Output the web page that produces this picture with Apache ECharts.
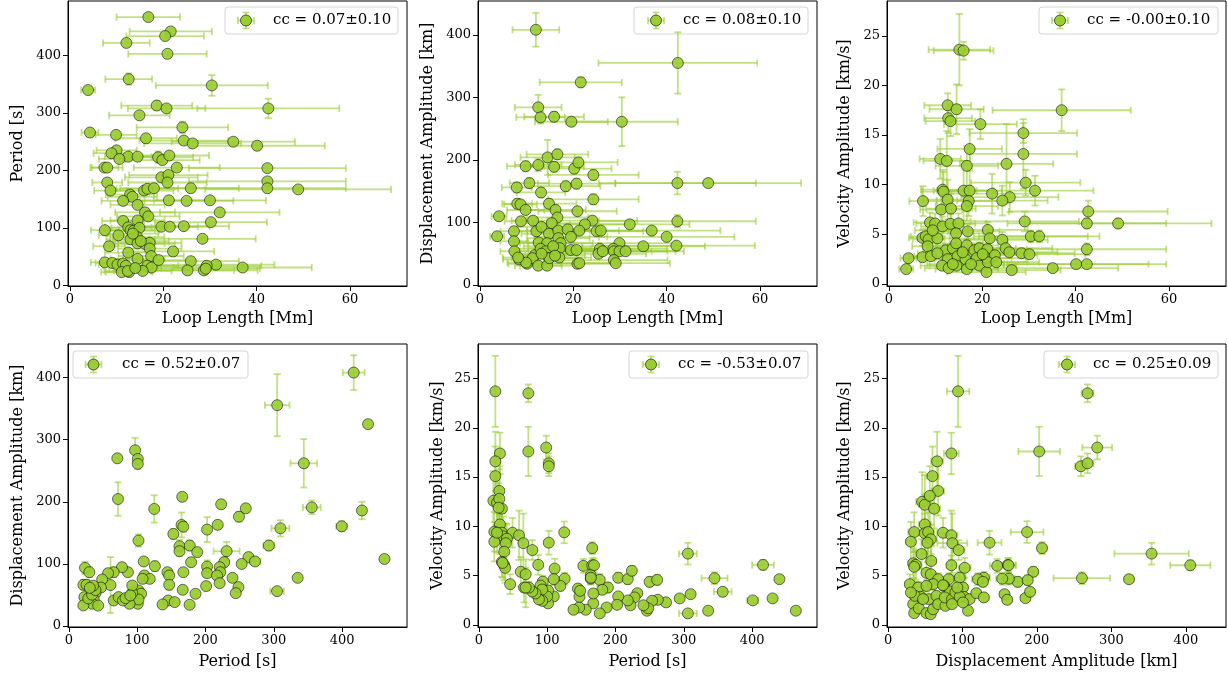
<!DOCTYPE html>
<html><head><meta charset="utf-8">
<script src="https://cdn.jsdelivr.net/npm/echarts@6/dist/echarts.min.js"></script>
<style>html,body{margin:0;padding:0;background:#fff}#c{width:1228px;height:676px}</style>
</head><body><div id="c"></div>
<script>
// ---- data: [x, y, xErr, yErr] ----
const loopPeriod = [
[16.8,467,6.8,4],[21.6,442,8.8,4],[20.4,434,8.3,4],[12.1,422,5,6],[20.9,403,8.4,4],[12.6,359,5,10],[3.9,340,1.5,5],[30.4,348,12,18],
[18.6,313,7.6,8],[20.7,308,8.3,6],[42.5,308,15.2,17],[14.9,296,6.5,4],[24.1,275,9.8,10],[4.3,266,1.8,4],[9.9,262,4.4,5],[16.3,256,6.6,5],
[24.4,252,9.5,6],[26.3,247,10.4,5],[35,250,13.2,6],[40.1,243,14.5,5],[10,235,4.3,6],[8.9,230,3.8,5],[12.5,224,5,4],[14.5,224,5.8,4],
[10.6,220,4.4,4],[18.9,223,7.5,10],[19.8,218,8,5],[21.3,226,8.5,6],[7.4,205,3,5],[8,205,3.3,4],[22.9,205,9.2,4],[42.3,204,16.8,5],
[19.6,188,7.8,5],[21.1,192,8.4,4],[20.9,179,8.4,4],[8,179,3.2,4],[42.3,181,16.8,4],[42.3,169,16.8,4],[48.9,167,19.9,4],[8.7,165,3.5,4],
[12.9,158,5.2,4],[13.4,154,5.3,4],[15.9,165,6.3,4],[16.6,168,6.6,4],[18,169,7.2,4],[25.9,169,10.3,4],[11.4,147,4.6,4],[14.5,140,5.8,4],
[21.2,148,8.4,6],[25,147,10,4],[30,148,12,4],[32.1,127,12.8,4],[16.1,127,6.4,4],[16.8,120,6.7,4],[11.4,112,4.5,4],[14.5,113,5.8,4],
[30.2,110,12,4],[19.6,102,7.8,4],[21.4,102,8.5,4],[24.4,103,9.7,4],[7.5,96,3,3],[12.5,101,5,3],[13,96,5.2,3],[13.7,95,5.4,3],
[14.9,100,6,3],[10.4,87,4.2,3],[14.4,84,5.8,3],[13,80,5.2,3],[28.4,81,11.4,3],[14.5,73,5.8,3],[16.1,72,6.4,3],[17.1,74,6.8,3],
[8.4,68,3.4,3],[17.1,64,6.8,3],[22.1,59,8.8,3],[17.4,51,7,2],[14.5,46,5.8,2],[25.9,42,10.3,2],[7.5,40,3,2],[9.1,39,3.6,2],
[10.2,36,4,2],[11.4,38,4.5,2],[12,34,4.8,2],[16.6,34,6.6,2],[17.5,31,7,2],[31.3,36,12.5,2],[29.3,34,11.7,2],[37,31,14.8,2],
[11.1,23,4.4,2],[12.7,23,5,2],[12.4,25,5,2],[15.6,25,6.2,2],[25.2,26,10,2],[28.7,26,11.5,2],[29.1,29,11.6,2],
[13.5,90,5.4,3],[15.2,77,6,3],[12.5,57,5,2],[19,44,7.6,2],[14,30,5.6,2]
];
const loopDisp = [
[12,408,5,27],[42.4,355,17,49],[21.6,324,8.8,8],[12.5,284,5,20],[13,268,5.2,10],[15.9,269,6.4,8],[19.6,261,7.8,6],[30.4,261,12,39],
[14.5,204,5.8,28],[16.6,209,6.6,8],[9.8,190,4,8],[12.5,192,5,10],[15.9,189,6.4,8],[20.2,186,8,8],[21.1,196,8.4,8],[24.3,176,9.7,8],
[10.6,163,4.2,8],[7.9,156,3.2,8],[13.1,148,5.2,8],[18.4,158,7.4,8],[20.7,162,8.3,8],[42.3,163,16.8,18],[48.9,163,19.9,6],[8,130,3.2,8],
[8.7,129,3.5,6],[14.8,130,5.9,8],[9.8,120,4,6],[24.3,137,9.7,8],[16.2,120,6.5,8],[20.9,118,8.4,6],[4.1,110,1.6,5],[16.6,108,6.6,6],
[8.8,102,3.5,6],[11.4,103,4.6,6],[15.4,99,6.2,6],[24.1,103,9.6,6],[22.5,97,9,6],[32.1,97,12.8,6],[42.3,102,16.8,10],[7.3,86,2.9,6],
[12.1,86,4.8,6],[13.2,93,5.3,6],[14.8,82,5.9,6],[16.8,87,6.7,6],[18.8,89,7.5,6],[21.3,87,8.5,6],[25,86,10,6],[25.9,87,10.4,6],
[36.8,87,14.7,6],[3.7,78,1.5,5],[7.3,70,2.9,5],[12.6,68,5,5],[14.4,67,5.8,5],[16.8,75,6.7,5],[17.3,67,6.9,5],[19.5,77,7.8,5],
[40,77,14.5,5],[29.9,67,12,5],[42.1,63,16.8,5],[35,62,13.2,5],[7.4,54,3,5],[11.8,48,4.7,5],[13,58,5.2,5],[14.1,54,5.6,5],
[14.8,43,5.9,4],[17.1,59,6.8,5],[15.7,62,6.3,5],[19.5,56,7.8,5],[20.7,56,8.3,5],[25.7,58,10.3,5],[28.6,58,11.4,5],[25.4,50,10.2,5],
[26.3,54,10.5,5],[28.7,54,11.5,5],[29.9,54,12,5],[31.2,54,12.5,5],[8.4,41,3.4,4],[10.1,34,4,4],[11.3,43,4.5,4],[12.5,31,5,4],
[14.4,31,5.8,4],[14.9,43,6,4],[17,44,6.8,4],[20.9,34,8.4,4],[21.3,35,8.5,4],[28.7,40,11.5,4],[29.1,35,11.6,4],[9.9,36,4,4],
[8.2,44,3.3,4],[13.2,50,5.3,5],[16.1,47,6.4,5]
];
const loopVel = [
[15.1,23.6,6.6,3.6],[16,23.5,6.4,0.9],[12.6,18,5,1.2],[14.5,17.6,5.8,2.5],[37,17.5,14.8,2.1],[12.7,16.7,5.1,1.5],[13.2,16.4,5.3,1.5],
[19.6,16.1,7.8,1.5],[28.8,15.2,11.5,1],[17.3,13.6,6.9,2],[28.8,13.1,11.5,3.5],[11,12.6,4.4,2],[12.4,12.4,5,3],[25.2,12.1,10,4],
[16.7,11.9,6.7,2],[29.3,10.2,11.7,1.3],[31.3,9.4,12.5,1.5],[11.5,9.5,4.6,2],[11.7,9.3,4.7,2],[16,9.4,6.4,3],[17.3,9.4,6.9,2],
[22.1,9.1,8.8,2],[25.9,8.75,10.4,1.5],[24.3,8.4,9.7,1.5],[7.3,8.35,2.9,1.5],[12.6,8.5,5,2],[17.1,8.35,6.8,1.5],[16.7,7.85,6.7,1.5],
[11.2,7.5,4.5,1.5],[13.3,7.6,5.3,1.5],[42.7,7.3,17,1.1],[8.8,6.2,3.5,1],[9.9,6.1,4,1],[11.5,5.8,4.6,1],[13.2,6.06,5.3,1],
[14.9,6.1,6,1],[29.1,6.3,11.6,1],[42.4,6.1,17,0.5],[49.1,6.1,20,0.5],[7.2,4.65,2.9,0.8],[7.9,4.8,3.2,0.8],[8.5,4.5,3.4,0.8],
[10.4,4.6,4.2,0.8],[14.4,5.1,5.8,0.8],[16.9,5.3,6.8,0.8],[21.2,5.45,8.5,0.8],[21.6,4.6,8.6,0.8],[24.3,4.45,9.7,0.8],[30.4,4.8,12.2,0.6],
[32.2,4.8,12.9,0.6],[8.3,3.8,3.3,0.6],[12.2,3.4,4.9,0.6],[13.7,3.6,5.5,0.6],[14.4,4.1,5.8,0.6],[16.7,3.9,6.7,0.6],[18.3,3.4,7.3,0.6],
[19.4,3.6,7.8,0.6],[21.1,3.5,8.4,0.6],[25,3.6,10,0.6],[42.4,3.5,17,0.6],[4.2,2.6,1.7,0.4],[7.2,2.7,2.9,0.4],[9,2.8,3.6,0.4],
[12.6,2.5,5,0.4],[14.7,2.8,5.9,0.4],[16.4,2.5,6.6,0.4],[18.8,2.6,7.5,0.4],[20.9,2.6,8.4,0.4],[22.7,2.9,9.1,0.4],[25.8,3.2,10.3,0.4],
[28.4,3.1,11.4,0.4],[30.1,3.0,12,0.4],[3.7,1.5,1.5,0.3],[11.4,1.85,4.6,0.3],[12.8,1.6,5.1,0.3],[14.5,1.85,5.8,0.3],[16.7,1.5,6.7,0.3],
[19.4,1.85,7.8,0.3],[20.9,1.2,8.4,0.3],[21.2,2.2,8.5,0.3],[26.3,1.4,10.5,0.3],[35.1,1.6,14,0.3],[40.1,2.0,15.5,0.3],[42.4,2.0,17,0.3],
[15.8,3.2,6.3,0.4],[20.1,3.0,8,0.4],[10.4,3.1,4.2,0.4],[13.7,2.0,5.5,0.3],[17.6,2.0,7,0.3],[23,2.2,9.2,0.3],[9.4,5.4,3.8,0.8]
];
const periodDisp = [
[417,408,16,28],[305,355.5,18,50],[438,325,5,6],[344,262,19.5,39],[97,283,3,20],[71,270,3,6],[101,269,3,6],[101,261,3,8],
[72,204.5,3,27],[125,188.5,3,22],[166,208,3,6],[223,196,4,6],[259,189.5,4,6],[249,176,4,8],[355.6,191,13,11],[429,186,5,14],
[399.5,160.6,8,8],[309.7,157.4,13,13],[202.4,155.3,4,20],[218,163,4,6],[165,162.8,4,20],[167.6,160,4,8],[102,137.6,3,10],[153,148.3,4,8],
[162,128.5,4,10],[162,120.5,4,8],[177,129.6,4,8],[188,119,4,6],[231,120.5,19,15],[292.8,129.6,8,8],[263,111,4,6],[272.5,104,8,6],
[253,100,4,5],[227.5,102.8,5,8],[220.8,94.8,5,6],[221.7,86.7,5,6],[202.4,95.8,5,10],[202.4,85.1,5,6],[179,102.8,4,6],[167.6,86.7,4,6],
[109.7,104,3,6],[126,96.4,3,8],[110.6,81.4,3,6],[118.4,76,3,6],[144.4,86.7,4,6],[146.9,81.4,4,6],[146.9,66.4,4,8],[166.7,58.4,4,6],
[201,64.3,4,6],[217,81.4,4,6],[220.8,69.1,4,6],[239.6,77.6,4,6],[248.3,62.7,4,5],[244.4,53,4,5],[304.8,56.2,10,5],[335,77.6,4,5],
[462,108,5,5],[185.5,52,4,5],[145.4,41.2,4,5],[155,38.6,4,4],[137.2,34.8,4,4],[176.8,34.3,4,4],[108,76,3,6],[102,57.3,3,5],
[105.8,52,3,5],[101,35.9,3,4],[102,42.8,3,4],[88.9,35.9,3,4],[92.8,53.5,3,5],[92.8,65.3,3,6],[86.5,86.7,3,6],[77.8,94.8,3,6],
[65.7,86.7,3,8],[57.5,85.1,3,6],[61,66,3,45],[65.7,41.2,3,5],[73,46.6,3,5],[79.2,41.2,3,5],[83,45,3,5],[90,49.3,3,5],
[48.8,75,2,6],[47,62,2,5],[39,53,2,5],[36.5,43,2,5],[34.5,36,2,5],[23.7,93.7,2,10],[30,86.7,2,8],[21.3,66.4,2,8],
[26,66.4,2,8],[22.7,46.6,2,6],[21.3,33.2,2,5],[28.5,44.5,2,6],[34,50.5,2,6],[39,58,2,6],[35.5,65,2,6],[30.8,61.5,2,6],[43,33,2,4]
];
const periodVel = [
[24.2,23.7,2,3.6],[72.5,23.5,2,0.9],[30.9,17.4,2,2.1],[72.5,17.6,3,2.5],[98.6,18,3,1.2],[102.4,16.4,3,1],[102.4,16.1,3,1],
[24.2,16.6,2,3],[24.2,15.1,2,3],[30,13.6,2,2.5],[21.3,12.6,2,3],[26.6,12.4,2,3],[33.8,11.8,2,2],[30,12.8,2,3],[30.9,10.2,2,3],
[22.7,9.46,2,2],[33.8,9.36,2,2],[35.7,9.0,2,2],[49.3,9.36,2,1.5],[58.9,9.1,2,2.5],[125,9.4,3,1.1],[22.7,8.45,2,2],[41,8.75,2,1.5],
[39.6,8.3,2,2],[65.2,8.3,2,3],[102.4,8.35,3,1.2],[37.2,7.44,2,2],[78.3,7.6,2,1],[166,7.8,3,0.6],[306,7.24,13,1.1],[33.8,6.4,2,1.5],
[37.2,6.06,2,1.5],[38.6,5.8,2,1.5],[61.4,5.4,2,1.5],[68.6,5.15,2,1.5],[66.2,3.8,2,1.5],[45.9,4.14,2,1],[87,6.1,2,1],[111,5.72,3,1],
[153,6.0,3,0.7],[166,6.06,3,0.7],[168.6,6.06,3,0.7],[163.8,5.05,3,0.6],[163.8,4.7,3,0.6],[177,4.58,3,0.6],[189,3.8,3,0.5],[204,4.8,4,0.5],
[218,4.65,4,0.5],[224,5.5,4,0.5],[250,4.38,4,0.5],[261,4.58,4,0.5],[416,6.1,16,0.5],[345,4.75,19,0.6],[440,4.65,5,0.4],[357,3.37,13,0.4],
[310,3.13,5,0.4],[294,2.7,6,0.3],[401,2.5,8,0.3],[430,2.7,5,0.3],[464,1.45,5,0.3],[335.7,1.45,5,0.3],[306,1.18,13,0.3],[274,2.3,5,0.3],
[262,2.56,5,0.3],[253.6,2.46,5,0.3],[246,1.45,5,0.3],[248,1.7,5,0.3],[241,2.0,5,0.3],[232,3.23,5,0.3],[228,2.8,5,0.3],[222,2.0,5,0.3],
[218,2.5,5,0.3],[204,2.9,5,0.3],[202.4,2.05,5,0.3],[187,1.78,5,0.3],[177,1.18,5,0.3],[167.6,2.2,5,0.3],[180.7,3.57,5,0.4],[167.6,3.2,5,0.4],
[156.5,1.55,5,0.3],[146.9,1.78,5,0.3],[138.6,1.55,5,0.3],[147.3,2.86,5,0.4],[145,3.7,5,0.4],[148.3,3.47,5,0.4],[164,4.8,3,0.6],[125.6,4.7,3,0.6],
[119.3,3.97,3,0.5],[109.7,2.9,3,0.4],[109.7,4.65,3,0.6],[101.4,3.5,3,0.5],[101.4,2.2,3,0.3],[100,2.9,3,0.4],[93.7,4.4,3,0.6],[90.3,4.0,3,0.6],
[92.8,3.6,3,0.5],[92.8,2.45,3,0.4],[88,2.6,3,0.4],[83,3.2,3,0.5],[78.3,3.4,3,0.5],[73.4,3.8,3,0.6],[68.6,3.8,3,2],[34.8,6.3,2,1.5],
[26.6,9.36,2,2],[29,11.9,2,2.5]
];
const dispVel = [
[94,23.7,15,3.6],[268,23.5,8,0.9],[85,17.4,10,2.1],[203,17.6,28,2.5],[281,18,20,1.2],[259,16.1,8,1],[268,16.4,8,1],[65.8,16.6,8,3],
[59.6,15.1,8,3],[67.2,13.6,8,2.5],[45.7,12.5,8,3],[49.3,12.2,8,3],[56,13.1,8,3],[61.8,11.8,8,2],[49.3,10.2,8,3],[35,9.43,8,2],
[49.3,9.3,8,2],[53.8,9.43,8,2],[73.8,9.36,8,1.5],[85,9.1,8,2.5],[186.7,9.43,22,1.1],[30.6,8.45,6,2],[57.3,8.7,8,1.5],[52.9,8.35,8,2],
[86.3,8.3,20,3],[136.3,8.35,16,1.2],[206.8,7.8,6,0.6],[94.8,7.6,8,1],[354,7.24,50,1.1],[406,6.06,27,0.5],[33.7,6.26,6,1.5],[37.3,6.1,6,1.5],
[35,5.9,6,1.5],[85,6.06,6,1],[102.9,5.8,8,1],[146.6,6.0,10,0.7],[160.9,6.1,10,0.7],[161.8,6.06,10,0.7],[195,5.4,6,0.5],[51.5,5.3,6,1.5],
[57.3,5.15,6,1.5],[260.4,4.75,38,0.6],[323.7,4.65,6,0.4],[174.2,4.38,6,0.5],[187.6,4.55,6,0.5],[162.2,4.7,8,0.6],[153.3,4.7,8,0.6],[128.7,4.8,8,0.6],
[120.7,4.65,8,0.6],[127.4,4.38,6,0.5],[96.2,4.8,8,0.6],[81.4,4.65,8,0.6],[67.2,4.65,6,0.6],[60.5,4.14,6,0.6],[29.2,4.14,6,1],[40.4,3.8,6,0.6],
[51.5,3.97,6,0.6],[75.2,3.97,6,0.6],[82.8,3.4,6,0.5],[100.6,3.8,6,0.5],[102,2.86,6,0.4],[109.5,2.63,6,0.4],[118.5,3.23,6,0.4],[128.7,2.8,6,0.4],
[156.4,3.13,6,0.4],[160,2.56,6,0.4],[184.5,2.73,6,0.3],[190.8,3.37,6,0.4],[107.3,1.45,5,0.3],[33.7,2.12,5,0.4],[35,1.21,5,0.3],[41.3,1.68,5,0.3],
[44,2.86,5,0.4],[51.5,1.21,5,0.3],[57.3,1.1,5,0.3],[60.5,1.6,5,0.3],[54.7,2.63,5,0.4],[64.9,2.96,5,0.4],[67.2,2.12,5,0.4],[77,1.95,5,0.3],
[76.1,2.8,5,0.4],[85.9,2.63,5,0.4],[90.4,3.3,5,0.4],[96.2,2.86,5,0.4],[85.9,2.12,5,0.3],[100.6,2.29,5,0.3],[35.9,2.96,5,0.4],[47,2.63,5,0.4],
[30.6,3.3,5,0.4],[73.8,4.04,5,0.5],[93,3.8,5,0.5],[58,6.5,6,1.5],[45,7.2,6,1.5]
];
const ccLabels = ['cc = 0.07±0.10','cc = 0.08±0.10','cc = -0.00±0.10','cc = 0.52±0.07','cc = -0.53±0.07','cc = 0.25±0.09'];
const lengthTicks = [0,20,40,60];
const periodTicks = [0,100,200,300,400];
const dispTicks = [0,100,200,300,400];
const velTicks = [0,5,10,15,20,25];
const nameLength = 'Loop Length [Mm]';
const namePeriod = 'Period [s]';
const nameDisp = 'Displacement Amplitude [km]';
const nameVel = 'Velocity Amplitude [km/s]';

// ---- styling / layout ----
const FONT = 'DejaVu Serif';
const MARK = '#9acd32';
const EDGE = 'rgba(0,0,0,0.6)';
const ERR = 'rgba(154,205,50,0.6)';
const R_LEN = [-0.4, 72.2], R_PER = [-1.2, 495], R_DISP = [-1.5, 454], R_VEL = [-0.2, 28.5];

const panels = [
  {data: loopPeriod, xr: R_LEN, yr: R_PER, xt: lengthTicks, yt: periodTicks, xn: nameLength, yn: namePeriod,
   grid: {left: 68, top: 1, width: 339, height: 285}, xg: 25, yg: 42, leg: [225, 7, 173, 246, 273]},
  {data: loopDisp, xr: R_LEN, yr: R_DISP, xt: lengthTicks, yt: dispTicks, xn: nameLength, yn: nameDisp,
   grid: {left: 478, top: 1, width: 339, height: 285}, xg: 25, yg: 42, leg: [634, 7, 174, 656, 683]},
  {data: loopVel, xr: R_LEN, yr: R_VEL, xt: lengthTicks, yt: velTicks, xn: nameLength, yn: nameVel,
   grid: {left: 887, top: 1, width: 339, height: 285}, xg: 25, yg: 34, leg: [1039, 7, 179, 1060, 1087]},
  {data: periodDisp, xr: R_PER, yr: R_DISP, xt: periodTicks, yt: dispTicks, xn: namePeriod, yn: nameDisp,
   grid: {left: 68, top: 344, width: 339, height: 283}, xg: 27, yg: 42, leg: [73, 351, 175, 93.5, 122]},
  {data: periodVel, xr: R_PER, yr: R_VEL, xt: periodTicks, yt: velTicks, xn: namePeriod, yn: nameVel,
   grid: {left: 478, top: 344, width: 339, height: 283}, xg: 27, yg: 32, leg: [629, 351, 179, 651, 678]},
  {data: dispVel, xr: R_DISP, yr: R_VEL, xt: dispTicks, yt: velTicks, xn: nameDisp, yn: nameVel,
   grid: {left: 887, top: 344, width: 339, height: 283}, xg: 27, yg: 34, leg: [1044, 351, 174, 1067, 1093]}
];

function axis(i, range, ticks, name, gap) {
  return {
    type: 'value', gridIndex: i, min: range[0], max: range[1], name: name, nameLocation: 'middle', nameGap: gap,
    nameTextStyle: {fontFamily: FONT, fontSize: 16, color: '#000'},
    axisLine: {show: true, onZero: false, lineStyle: {color: '#000', width: 1}},
    axisTick: {show: true, length: 5, lineStyle: {color: '#000', width: 1}, customValues: ticks},
    axisLabel: {color: '#000', fontFamily: FONT, fontSize: 13, margin: 7, customValues: ticks, hideOverlap: false},
    splitLine: {show: false}
  };
}

function errItem(params, api) {
  const x = api.value(0), y = api.value(1), xe = api.value(2), ye = api.value(3);
  const l = api.coord([x - xe, y]), r = api.coord([x + xe, y]);
  const b = api.coord([x, y - ye]), t = api.coord([x, y + ye]);
  const cap = 3.5;
  const style = {stroke: ERR, lineWidth: 1.8};
  const seg = (x1, y1, x2, y2) => ({type: 'line', shape: {x1, y1, x2, y2}, style: style});
  return {type: 'group', children: [
    seg(l[0], l[1], r[0], r[1]), seg(l[0], l[1] - cap, l[0], l[1] + cap), seg(r[0], r[1] - cap, r[0], r[1] + cap),
    seg(b[0], b[1], t[0], t[1]), seg(b[0] - cap, b[1], b[0] + cap, b[1]), seg(t[0] - cap, t[1], t[0] + cap, t[1])
  ]};
}

const grids = [], xAxes = [], yAxes = [], series = [], graphics = [];
panels.forEach((p, i) => {
  grids.push(Object.assign({show: true, borderColor: '#000', borderWidth: 1, backgroundColor: '#fff', containLabel: false, outerBoundsMode: 'none'}, p.grid));
  xAxes.push(axis(i, p.xr, p.xt, p.xn, p.xg));
  yAxes.push(axis(i, p.yr, p.yt, p.yn, p.yg));
  series.push({type: 'custom', xAxisIndex: i, yAxisIndex: i, data: p.data, renderItem: errItem,
    encode: {x: 0, y: 1}, clip: true, silent: true, z: 2});
  series.push({type: 'scatter', xAxisIndex: i, yAxisIndex: i, data: p.data.map(d => [d[0], d[1]]),
    symbol: 'circle', symbolSize: 11, z: 3, silent: true,
    itemStyle: {color: MARK, borderColor: EDGE, borderWidth: 1, opacity: 0.9}});
  const [bx, by, bw, mx, tx] = p.leg;
  const my = by + 13.5, c = 3.5, s = {stroke: ERR, lineWidth: 1.8};
  graphics.push({type: 'group', z: 100, children: [
    {type: 'rect', shape: {x: bx, y: by, width: bw, height: 27, r: 3}, style: {fill: 'rgba(255,255,255,0.85)', stroke: '#d5d5d5', lineWidth: 1}},
    {type: 'line', shape: {x1: mx - 8, y1: my, x2: mx + 8, y2: my}, style: s},
    {type: 'line', shape: {x1: mx - 8, y1: my - c, x2: mx - 8, y2: my + c}, style: s},
    {type: 'line', shape: {x1: mx + 8, y1: my - c, x2: mx + 8, y2: my + c}, style: s},
    {type: 'line', shape: {x1: mx, y1: my - 8, x2: mx, y2: my + 8}, style: s},
    {type: 'line', shape: {x1: mx - c, y1: my - 8, x2: mx + c, y2: my - 8}, style: s},
    {type: 'line', shape: {x1: mx - c, y1: my + 8, x2: mx + c, y2: my + 8}, style: s},
    {type: 'circle', shape: {cx: mx, cy: my, r: 5.5}, style: {fill: MARK, stroke: EDGE, lineWidth: 1}},
    {type: 'text', x: tx, y: my, style: {text: ccLabels[i], font: '15px "DejaVu Serif"', fill: '#000', verticalAlign: 'middle', textVerticalAlign: 'middle'}}
  ]});
});

const chart = echarts.init(document.getElementById('c'), null, {renderer: 'canvas'});
chart.setOption({animation: false, backgroundColor: '#fff', grid: grids, xAxis: xAxes, yAxis: yAxes, series: series, graphic: graphics});
</script></body></html>
